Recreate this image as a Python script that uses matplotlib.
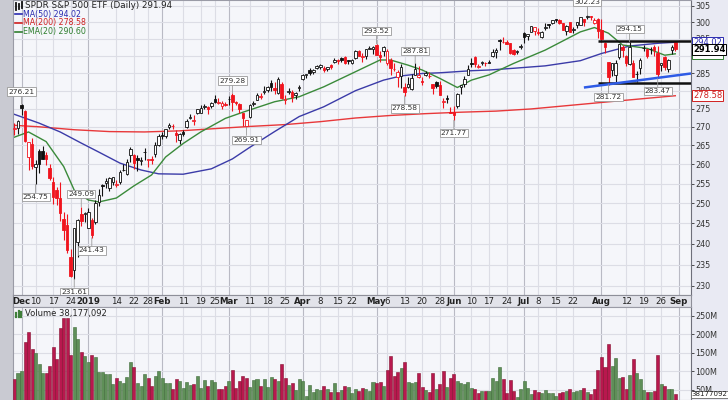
import numpy as np
import pandas as pd
import matplotlib
matplotlib.use("Agg")
import matplotlib.pyplot as plt
from matplotlib.ticker import FixedLocator, NullLocator, FuncFormatter

# ---------------- data ----------------
holidays = ["2018-12-05", "2018-12-25", "2019-01-01", "2019-01-21", "2019-02-18",
            "2019-04-19", "2019-05-27", "2019-07-04"]
dates = pd.bdate_range("2018-11-29", "2019-08-30")
dates = dates[~dates.isin(pd.to_datetime(holidays))]

prior_close = 270.4

open_ = [269.4, 269.7, 276.0, 274.2, 261.9, 265.4, 259.4, 263.6, 263.4, 262.5,
         259.0, 255.5, 253.3, 251.3, 246.1, 244.5, 236.8, 233.8, 240.3, 247.3,
         247.3, 243.7, 245.9, 245.3, 250.4, 254.5, 255.2, 253.9, 255.3, 254.5,
         255.4, 258.4, 257.4, 262.5, 262.4, 261.6, 260.8, 263.2, 261.0, 261.5,
         262.7, 265.0, 267.7, 267.6, 269.9, 270.3, 268.4, 266.3, 268.7, 269.9,
         272.5, 271.5, 273.8, 273.9, 275.5, 275.5, 275.6, 277.8, 276.6, 275.8,
         276.3, 277.6, 278.9, 276.7, 276.4, 273.9, 270.3, 272.7, 276.2, 277.4,
         278.3, 279.6, 280.2, 282.1, 280.9, 279.3, 281.8, 277.5, 279.6, 279.7,
         278.7, 280.9, 283.3, 284.6, 285.9, 285.3, 286.4, 286.7, 286.5, 286.3,
         287.4, 288.1, 288.9, 289.3, 289.6, 288.7, 287.8, 289.3, 291.4, 289.8,
         290.1, 292.1, 292.1, 293.3, 290.3, 291.4, 287.8, 288.7, 286.1, 283.8,
         284.2, 281.0, 281.0, 280.5, 284.5, 283.8, 282.7, 284.4, 284.1, 281.8,
         282.4, 281.7, 276.9, 277.8, 274.0, 274.0, 275.8, 281.0, 281.9, 284.5,
         288.0, 289.6, 286.8, 288.0, 287.8, 288.1, 290.0, 291.1, 294.6, 294.13,
         294.23, 293.68, 291.68, 291.02, 292.58, 296.68, 295.86, 297.18, 297.44, 297.01,
         295.54, 298.37, 299.32, 299.85, 301.13, 300.65, 299.64, 297.24, 300.00, 297.61,
         299.14, 299.19, 300.92, 301.51, 301.76, 299.91, 300.99, 297.60, 293.85, 288.09,
         285.91, 284.40, 289.62, 292.58, 289.96, 287.74, 288.07, 284.88, 286.48, 292.19,
         291.92, 292.07, 292.73, 290.92, 287.27, 289.54, 286.14, 291.72, 294.22]
high = [271.0, 271.8, 276.21, 274.6, 265.9, 267.1, 261.2, 263.9, 264.9, 263.3,
        260.0, 256.7, 254.1, 255.5, 247.8, 247.4, 238.6, 243.9, 246.0, 249.09,
        247.9, 248.9, 246.3, 250.8, 253.6, 254.9, 256.5, 256.8, 256.6, 255.9,
        258.5, 260.1, 261.5, 264.5, 262.6, 262.4, 261.8, 264.2, 261.4, 262.1,
        266.0, 268.0, 268.7, 269.5, 270.9, 270.8, 269.1, 268.2, 269.0, 272.0,
        273.4, 273.1, 274.9, 276.0, 276.3, 275.7, 276.8, 278.7, 277.9, 277.1,
        276.9, 278.4, 279.28, 277.2, 276.5, 273.9, 271.9, 276.3, 277.2, 279.4,
        279.3, 281.2, 281.2, 283.0, 282.6, 283.8, 282.4, 278.8, 280.8, 280.2,
        279.7, 281.5, 284.8, 284.8, 286.4, 286.3, 287.3, 287.5, 287.0, 286.9,
        287.5, 289.3, 289.0, 289.6, 290.0, 288.9, 289.0, 291.7, 291.7, 290.8,
        292.0, 293.0, 292.9, 293.52, 291.3, 292.9, 291.9, 289.4, 288.0, 285.9,
        287.5, 282.1, 284.0, 284.8, 287.81, 287.1, 284.0, 285.5, 285.3, 281.8,
        282.8, 282.8, 278.0, 278.7, 275.5, 275.7, 279.3, 281.6, 284.2, 287.4,
        289.4, 290.0, 287.6, 288.6, 288.2, 288.8, 292.1, 292.2, 294.9, 295.52,
        294.58, 293.73, 292.13, 291.77, 293.55, 296.92, 296.45, 298.82, 298.64, 298.26,
        297.45, 299.66, 299.58, 300.73, 301.13, 300.88, 299.80, 299.25, 300.07, 298.47,
        300.03, 301.44, 300.92, 302.23, 301.92, 301.17, 301.20, 300.87, 294.12, 288.21,
        288.04, 288.82, 293.62, 293.23, 290.12, 294.15, 288.74, 285.64, 289.33, 293.08,
        292.11, 292.63, 293.16, 292.76, 288.00, 289.95, 289.07, 293.16, 294.24]
low = [267.9, 268.0, 273.3, 265.8, 258.5, 258.7, 254.75, 257.7, 261.4, 259.7,
       255.9, 249.7, 249.5, 245.6, 241.0, 237.8, 232.1, 231.61, 236.8, 244.2,
       245.2, 243.7, 241.43, 244.9, 249.4, 251.7, 253.8, 253.1, 254.7, 254.0,
       254.8, 258.3, 257.2, 260.6, 258.7, 258.3, 259.7, 261.2, 259.4, 260.1,
       261.8, 264.8, 266.7, 266.9, 269.4, 269.4, 265.8, 265.4, 267.4, 269.8,
       272.0, 270.4, 273.4, 273.9, 274.9, 273.6, 275.3, 276.6, 276.3, 275.0,
       275.7, 276.1, 274.3, 275.9, 273.7, 270.1, 269.91, 272.5, 275.6, 277.4,
       277.7, 279.1, 279.7, 280.0, 279.0, 279.2, 277.8, 276.3, 279.0, 276.9,
       277.7, 279.8, 283.0, 283.7, 284.4, 284.8, 286.1, 286.1, 285.3, 285.7,
       286.2, 288.0, 287.5, 288.1, 287.6, 287.7, 287.7, 289.0, 290.1, 288.1,
       289.2, 292.0, 290.5, 290.4, 288.1, 289.9, 287.4, 284.4, 285.5, 281.0,
       280.9, 278.58, 280.7, 280.3, 284.4, 283.6, 281.7, 284.2, 283.7, 279.2,
       280.7, 278.8, 275.3, 276.5, 273.8, 271.77, 275.3, 279.0, 281.0, 284.4,
       286.8, 286.8, 286.4, 287.3, 287.0, 287.8, 289.6, 289.5, 291.7, 293.76,
       293.47, 290.64, 290.29, 290.53, 292.01, 293.69, 294.57, 297.02, 296.04, 296.22,
       295.40, 297.78, 298.20, 299.36, 300.19, 299.44, 297.74, 296.31, 296.96, 296.86,
       298.22, 299.13, 298.80, 300.93, 300.54, 299.49, 295.20, 293.96, 290.90, 281.72,
       284.28, 282.04, 289.01, 289.65, 287.13, 287.36, 283.80, 282.39, 284.71, 291.44,
       289.35, 290.45, 289.89, 283.47, 285.58, 286.03, 285.25, 290.61, 291.42]
close = [269.8, 271.5, 275.1, 266.2, 265.8, 259.6, 260.1, 260.1, 261.4, 261.3,
         256.5, 251.5, 251.2, 247.5, 243.4, 238.5, 232.2, 243.9, 245.8, 245.5,
         247.6, 247.9, 242.0, 250.1, 252.0, 254.4, 255.6, 256.5, 256.6, 255.0,
         258.0, 258.6, 260.5, 264.0, 260.4, 261.0, 261.1, 263.3, 261.3, 261.0,
         265.1, 267.4, 267.6, 269.5, 270.6, 270.2, 267.7, 268.0, 268.1, 271.6,
         272.5, 271.9, 274.8, 275.3, 275.8, 274.9, 276.6, 276.9, 276.7, 276.6,
         276.1, 277.8, 276.8, 276.5, 274.8, 272.5, 271.9, 275.9, 276.6, 278.8,
         278.6, 279.9, 281.0, 281.0, 280.2, 283.3, 277.9, 277.7, 279.8, 278.3,
         279.3, 281.1, 284.4, 284.6, 285.0, 285.8, 287.2, 287.4, 285.9, 286.9,
         286.8, 288.8, 288.6, 288.8, 288.0, 288.6, 288.9, 291.5, 290.1, 290.0,
         292.0, 292.4, 292.6, 290.4, 289.8, 292.6, 291.4, 286.5, 286.1, 285.3,
         286.7, 279.5, 282.0, 283.7, 286.3, 284.5, 282.6, 285.1, 284.2, 280.8,
         281.4, 278.8, 276.9, 277.7, 273.9, 273.2, 279.2, 281.6, 283.4, 286.3,
         287.6, 287.5, 287.0, 288.2, 287.9, 288.0, 291.0, 291.6, 294.4, 294.00,
         293.64, 290.76, 290.47, 291.50, 293.00, 295.66, 296.43, 298.80, 298.46, 296.82,
         297.19, 298.61, 299.31, 300.65, 300.75, 299.71, 297.74, 298.83, 297.17, 297.90,
         300.03, 301.44, 300.00, 302.01, 301.46, 300.72, 297.43, 294.84, 292.62, 283.82,
         287.80, 287.97, 293.62, 291.62, 288.07, 292.55, 283.90, 284.65, 288.85, 292.33,
         290.09, 291.97, 291.75, 284.85, 288.00, 286.87, 288.89, 292.58, 291.94]
volume_m = [80, 95, 101, 178, 205, 159, 150, 119, 95, 95,
            114, 165, 133, 216, 243, 243, 144, 220, 186, 151,
            141, 126, 144, 140, 99, 99, 93, 93, 66, 81,
            73, 68, 85, 126, 113, 70, 60, 93, 81, 62,
            88, 101, 81, 68, 68, 53, 79, 75, 56, 72,
            63, 65, 88, 55, 77, 61, 77, 72, 53, 53,
            60, 75, 104, 56, 75, 88, 82, 59, 77, 79,
            62, 79, 57, 86, 79, 75, 119, 81, 63, 68,
            50, 79, 75, 34, 63, 45, 54, 50, 62, 52,
            45, 68, 45, 50, 60, 58, 42, 52, 48, 55,
            52, 48, 72, 70, 72, 62, 103, 142, 88, 99,
            110, 126, 72, 70, 72, 97, 57, 50, 44, 95,
            52, 66, 102, 57, 83, 93, 74, 68, 65, 71,
            56, 52, 43, 48, 48, 48, 81, 75, 111, 79,
            43, 77, 48, 32, 52, 75, 56, 40, 50, 45,
            42, 50, 42, 42, 35, 42, 45, 47, 52, 45,
            47, 50, 55, 45, 40, 52, 104, 140, 113, 174,
            115, 135, 81, 86, 54, 90, 132, 95, 79, 50,
            45, 45, 47, 144, 66, 62, 53, 52, 38.18]

# moving-average lines (trading-day index, value)
ma200_idx = [0, 7, 17, 27, 37, 47, 57, 67, 77, 87, 97, 107, 117, 127, 137, 147, 157, 167, 177, 188]
ma200_val = [270.4, 270.0, 269.2, 268.7, 268.6, 268.9, 269.5, 270.1, 270.6, 271.4,
             272.4, 273.1, 273.6, 274.0, 274.3, 274.9, 275.8, 276.7, 277.6, 278.58]
ma50_idx = [0, 7, 13, 19, 24, 30, 36, 41, 48, 56, 62, 67, 74, 81, 88, 97, 105, 110, 116,
            121, 130, 135, 142, 151, 161, 167, 175, 183, 188]
ma50_val = [273.4, 271.0, 268.6, 265.6, 263.2, 260.3, 258.5, 257.5, 257.4, 258.8, 261.4,
            264.5, 268.7, 272.8, 275.5, 280.0, 283.0, 284.2, 284.9, 285.1, 285.7, 285.9,
            286.4, 287.1, 288.6, 290.7, 292.9, 293.7, 294.02]
ema20_idx = [0, 4, 9, 14, 17, 21, 24, 29, 34, 39, 43, 48, 53, 60, 65, 74, 81, 88, 97, 104,
             107, 112, 116, 121, 126, 130, 135, 142, 151, 161, 165, 169, 173, 180, 185, 188]
ema20_val = [267.2, 268.6, 266.0, 259.4, 253.3, 250.8, 250.3, 251.3, 254.4, 257.2, 261.9,
             265.5, 268.6, 272.3, 274.0, 276.9, 278.3, 281.1, 285.4, 288.8, 288.8, 287.3,
             285.9, 283.5, 280.9, 283.0, 284.5, 287.8, 291.7, 297.1, 298.4, 296.7, 293.2,
             292.2, 290.2, 290.6]

# swing-point labels
ann_dates = ["2018-12-03", "2018-12-10", "2018-12-26", "2018-12-28", "2019-01-03",
             "2019-03-04", "2019-03-08", "2019-05-01", "2019-05-13", "2019-05-16",
             "2019-06-03", "2019-07-26", "2019-08-05", "2019-08-13", "2019-08-23"]
ann_values = [276.21, 254.75, 231.61, 249.09, 241.43, 279.28, 269.91, 293.52, 278.58,
              287.81, 271.77, 302.23, 281.72, 294.15, 283.47]
ann_kind = ["high", "low", "low", "high", "low", "high", "low", "high", "low", "high",
            "low", "high", "low", "high", "low"]

# drawn trend lines
resistance = 294.3
support = 282.1
lines_start = "2019-07-31"
trend_start = ("2019-07-25", 280.9)
trend_end_price = 284.9

tick_dates = ["2018-12-03", "2018-12-10", "2018-12-17", "2018-12-24", "2019-01-02", "2019-01-14",
              "2019-01-22", "2019-01-28", "2019-02-01", "2019-02-11", "2019-02-19", "2019-02-25",
              "2019-03-01", "2019-03-11", "2019-03-18", "2019-03-25", "2019-04-01", "2019-04-08",
              "2019-04-15", "2019-04-22", "2019-05-01", "2019-05-06", "2019-05-13", "2019-05-20",
              "2019-05-28", "2019-06-03", "2019-06-10", "2019-06-17", "2019-06-24", "2019-07-01",
              "2019-07-08", "2019-07-15", "2019-07-22", "2019-08-01", "2019-08-12", "2019-08-19",
              "2019-08-26", "2019-09-03"]
tick_labels = ["Dec", "10", "17", "24", "2019", "14", "22", "28", "Feb", "11", "19", "25",
               "Mar", "11", "18", "25", "Apr", "8", "15", "22", "May", "6", "13", "20", "28",
               "Jun", "10", "17", "24", "Jul", "8", "15", "22", "Aug", "12", "19", "26", "Sep"]
price_ticks = [230, 235, 240, 245, 250, 255, 260, 265, 270, 275, 280, 285, 290, 295, 300, 305]
vol_ticks = [50, 100, 150, 200, 250]

# ---------------- figure ----------------
W, H = 728, 400
fig = plt.figure(figsize=(W / 100, H / 100), dpi=100)
fig.patch.set_facecolor("#E9EAF3")


def px_axes(x0, y0, x1, y1):
    return fig.add_axes([x0 / W, 1 - y1 / H, (x1 - x0) / W, (y1 - y0) / H])


# left grey margin (behind everything)
fig.patches.append(plt.Rectangle((0, 0), 13 / W, 1, transform=fig.transFigure,
                                 facecolor="#C9CAD2", edgecolor="none", zorder=-10))

ax = px_axes(13, 0, 691, 295)
axd = px_axes(13, 295, 691, 307)
axv = px_axes(13, 307, 691, 400)

n = len(dates)
x = np.arange(n)
pos = {d.strftime("%Y-%m-%d"): i for i, d in enumerate(dates)}


def xpos(d):
    if d in pos:
        return pos[d]
    return n  # first trading day after the data


xlim = (-0.42, 192.47)
bg = "#F5F6FA"
grid_c = "#DCDDE5"
month_c = "#B9BAC4"
red = "#F0141E"

o = np.array(open_)
h = np.array(high)
lo = np.array(low)
c = np.array(close)
prev = np.concatenate([[prior_close], c[:-1]])
up = c >= prev
hollow = c >= o
col = np.where(up, "#111111", red)

tick_x = [xpos(d) for d in tick_dates]
is_month = [not lbl.isdigit() or lbl == "2019" for lbl in tick_labels]

for a in (ax, axv):
    a.set_facecolor(bg)
    a.set_xlim(*xlim)
    for tx, m in zip(tick_x, is_month):
        a.axvline(tx, color=month_c if m else grid_c, lw=0.8, zorder=0)
    a.set_xticks([])
    for s in a.spines.values():
        s.set_color("#9A9BA6")
        s.set_linewidth(0.8)
    a.spines["right"].set_color("#6E6F7A")
    a.spines["right"].set_linestyle((0, (1, 1)))

# price panel
ax.set_yscale("log")
ax.set_ylim(227.9, 306.8)
for p in price_ticks:
    ax.axhline(p, color=grid_c, lw=0.8, zorder=0)
ax.yaxis.set_major_locator(FixedLocator(price_ticks))
ax.yaxis.set_minor_locator(NullLocator())
ax.yaxis.set_major_formatter(FuncFormatter(lambda v, _: f"{v:.0f}"))
ax.yaxis.tick_right()
ax.tick_params(axis="y", labelsize=5.8, colors="#333333", length=2, pad=1, width=0.6)

ax.plot(ma200_idx, ma200_val, color="#E8383A", lw=1.0, zorder=2)
ax.plot(ma50_idx, ma50_val, color="#3B3BA8", lw=1.0, zorder=2)
ax.plot(ema20_idx, ema20_val, color="#3A8A3A", lw=1.0, zorder=2)

ax.vlines(x, lo, h, colors=col, lw=0.8, zorder=3)
bot = np.minimum(o, c)
top = np.maximum(o, c)
hgt = np.maximum(top - bot, 0.12)
ax.bar(x, hgt, bottom=bot, width=0.72, color=np.where(hollow, "white", col),
       edgecolor=col, linewidth=0.6, zorder=4)

# trend lines
ls = xpos(lines_start)
ax.plot([ls, xlim[1]], [resistance, resistance], color="#111111", lw=1.8, zorder=5,
        solid_capstyle="butt")
ax.plot([ls, xlim[1]], [support, support], color="#111111", lw=1.8, zorder=5,
        solid_capstyle="butt")
ax.plot([xpos(trend_start[0]), xlim[1]], [trend_start[1], trend_end_price],
        color="#2E5BE6", lw=1.8, zorder=5, solid_capstyle="butt")

# swing labels
for d, v, k in zip(ann_dates, ann_values, ann_kind):
    dy = 7 if k == "high" else -7
    ax.annotate(f"{v:.2f}", xy=(xpos(d), v), xytext=(0, dy), textcoords="offset points",
                ha="center", va="bottom" if k == "high" else "top", fontsize=5.4,
                color="#333333", zorder=7, annotation_clip=False,
                bbox=dict(boxstyle="square,pad=0.15", fc="white", ec="#9A9A9A", lw=0.6),
                arrowprops=dict(arrowstyle="-", color="#9A9A9A", lw=0.6, shrinkA=0, shrinkB=0))

# right-side value tags
tags = [(290.60, "290.60", "#2F7F2F", "normal"), (294.02, "294.02", "#2B2BB0", "normal"),
        (278.58, "278.58", "#D02020", "normal"), (291.94, "291.94", "#000000", "bold")]
for v, t, cc, wgt in tags:
    ax.text(1.003, v, t, transform=ax.get_yaxis_transform(), fontsize=6.0, color=cc,
            fontweight=wgt, va="center", ha="left", zorder=8, clip_on=False,
            bbox=dict(boxstyle="square,pad=0.12", fc="white", ec=cc, lw=0.7))

# header with small candle icon
for xx, y0, y1 in [(16, 2.5, 9.5), (19, 3.5, 8.5), (22, 2, 8)]:
    fig.lines.append(plt.Line2D([xx / W, xx / W], [1 - y0 / H, 1 - y1 / H], color="#111111",
                                lw=1.3, transform=fig.transFigure))
fig.text(25 / W, 1 - 5.5 / H, "SPDR S&P 500 ETF (Daily) 291.94", fontsize=6.3,
         color="#222222", va="center", ha="left")
legend_items = [("MA(50) 294.02", "#2B2BB0", 14.3), ("MA(200) 278.58", "#D02020", 23.0),
                ("EMA(20) 290.60", "#2F7F2F", 31.6)]
for t, cc, yy in legend_items:
    fig.lines.append(plt.Line2D([15 / W, 22 / W], [1 - yy / H, 1 - yy / H], color=cc, lw=1.2,
                                transform=fig.transFigure))
    fig.text(23 / W, 1 - yy / H, t, fontsize=5.7, color=cc, va="center", ha="left")

# date strip
axd.set_xlim(*xlim)
axd.set_ylim(0, 1)
axd.set_facecolor("#E2E3EA")
axd.set_xticks([])
axd.set_yticks([])
for s in axd.spines.values():
    s.set_color("#8E8F99")
    s.set_linestyle((0, (1, 1)))
    s.set_linewidth(0.8)
for tx, lbl, m in zip(tick_x, tick_labels, is_month):
    axd.text(tx, 0.45, lbl, ha="center", va="center", fontsize=6.2,
             fontweight="bold" if m else "normal", color="#222222")

# volume panel
vol = np.array(volume_m)
vcol = np.where(up, "#5F8F58", "#B8184E")
vedge = np.where(up, "#3F6B3A", "#85102F")
axv.set_ylim(23.1, 273.1)
for vt in vol_ticks:
    axv.axhline(vt, color=grid_c, lw=0.8, zorder=0)
axv.bar(x, vol, width=0.86, color=vcol, edgecolor=vedge, linewidth=0.4, zorder=3)
axv.yaxis.tick_right()
axv.yaxis.set_major_locator(FixedLocator(vol_ticks))
axv.yaxis.set_major_formatter(FuncFormatter(lambda v, _: f"{v:.0f}M"))
axv.tick_params(axis="y", labelsize=5.8, colors="#333333", length=2, pad=1, width=0.6)
for xx, y0 in [(16, 313), (18.5, 311), (21, 312)]:
    fig.lines.append(plt.Line2D([xx / W, xx / W], [1 - 316.5 / H, 1 - y0 / H], color="#3F7F3A",
                                lw=1.6, transform=fig.transFigure))
axv.text(0.018, 0.93, "Volume 38,177,092", transform=axv.transAxes, fontsize=6.0,
         color="#222222", va="center", ha="left")
axv.text(1.001, volume_m[-1], "38177092", transform=axv.get_yaxis_transform(), fontsize=5.0,
         color="#222222", va="center", ha="left", clip_on=False,
         bbox=dict(boxstyle="square,pad=0.1", fc="white", ec="#666666", lw=0.6))

fig.savefig("out.png", dpi=100, facecolor=fig.get_facecolor())
